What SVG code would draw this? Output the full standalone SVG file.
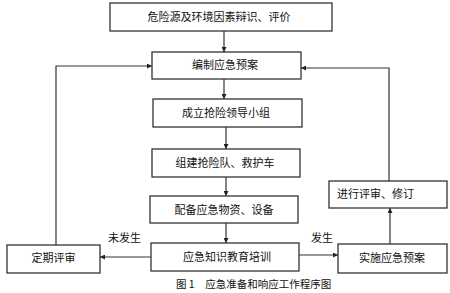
<svg xmlns="http://www.w3.org/2000/svg" width="450" height="293" viewBox="0 0 450 293">
<defs>
<marker id="ah" viewBox="0 0 10 10" refX="10" refY="5" markerWidth="5" markerHeight="5" markerUnits="userSpaceOnUse" orient="auto">
<path d="M0,0 L10,5 L0,10 z" fill="#222"/>
</marker>
</defs>
<style>
.box{fill:#fff;stroke:#333;stroke-width:1.3}
.t{font-family:"Noto Sans CJK SC","Noto Sans",sans-serif;font-size:11px;fill:#111;text-anchor:middle}
.l{font-family:"Noto Sans CJK SC","Noto Sans",sans-serif;font-size:11px;fill:#111}
.c{stroke:#333;stroke-width:1.2;fill:none;marker-end:url(#ah)}
</style>
<rect width="450" height="293" fill="#fff"/>
<g id="connectors">
<path class="c" d="M224,31 V52"/>
<path class="c" d="M224,79 V99"/>
<path class="c" d="M226,127 V149"/>
<path class="c" d="M226,177 V196"/>
<path class="c" d="M226,223 V243"/>
<path class="c" d="M151,257 H100"/>
<path class="c" d="M299,255 H338"/>
<path class="c" d="M390,244 V208"/>
<path class="c" d="M56,245 V66 H152"/>
<path class="c" d="M389,181 V68 H301"/>
<text class="l" x="108" y="242">未发生</text>
<text class="l" x="311" y="242">发生</text>
</g>
<g id="n1"><rect class="box" x="110" y="3" width="222" height="28"/><text class="t" x="219" y="21">危险源及环境因素辩识、评价</text></g>
<g id="n2"><rect class="box" x="152" y="52" width="149" height="27"/><text class="t" x="225" y="69">编制应急预案</text></g>
<g id="n3"><rect class="box" x="153" y="99" width="149" height="28"/><text class="t" x="226" y="117">成立抢险领导小组</text></g>
<g id="n4"><rect class="box" x="152" y="149" width="148" height="28"/><text class="t" x="225" y="167">组建抢险队、救护车</text></g>
<g id="n5"><rect class="box" x="150" y="196" width="148" height="27"/><text class="t" x="224" y="214">配备应急物资、设备</text></g>
<g id="n6"><rect class="box" x="151" y="243" width="148" height="28"/><text class="t" x="227" y="261">应急知识教育培训</text></g>
<g id="n7"><rect class="box" x="7" y="245" width="93" height="28"/><text class="t" x="53.5" y="262">定期评审</text></g>
<g id="n8"><rect class="box" x="338" y="244" width="109" height="29"/><text class="t" x="392" y="262">实施应急预案</text></g>
<g id="n9"><rect class="box" x="329" y="181" width="118" height="27"/><text class="l" x="337" y="198">进行评审、修订</text></g>
<text class="l" x="176" y="288" style="font-size:10.5px">图 1　应急准备和响应工作程序图</text>
</svg>
